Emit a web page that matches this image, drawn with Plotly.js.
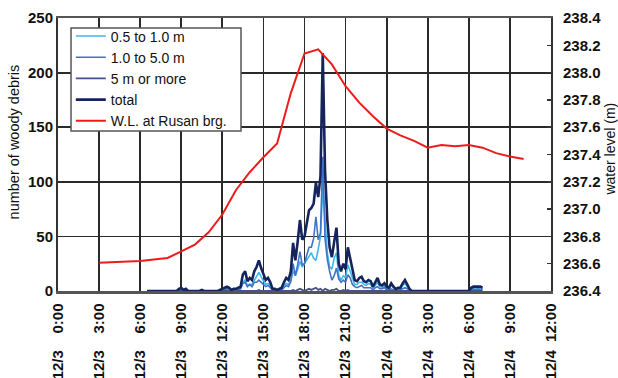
<!DOCTYPE html>
<html>
<head>
<meta charset="utf-8">
<script src="https://cdn.plot.ly/plotly-3.0.1.min.js"></script>
<style>html,body{margin:0;padding:0;background:#fff;}#chart{width:618px;height:378px;}</style>
</head>
<body>
<div id="chart"></div>
<script>
// time in minutes from 12/3 0:00
const tMin = [390,520,530,540,550,560,570,620,630,640,700,710,
  720,730,740,750,760,770,780,790,800,810,820,830,840,850,860,870,880,890,900,910,920,930,940,950,960,970,980,990,
  1000,1010,1020,1030,1040,1050,1060,1070,1080,1090,1100,1110,1120,1130,1140,1150,1160,1170,1180,1190,1200,1210,
  1220,1230,1240,1250,1260,1270,1280,1290,1300,1310,1320,1330,1340,1350,1360,1370,1380,1390,1400,1410,1420,1430,
  1440,1450,1460,1470,1480,1490,1500,1510,1520,1530,1540,1550,1560,
  1800,1810,1820,1830,1840,1850,1860];

const light = [0,0,1,1,0,1,0,0,0,0,0,0,
  1,2,2,1,0,1,1,2,2,8, 10,5,6,6,10,14,17,13,10,6, 7,5,1,1,0,1,2,5,7,6,
  9,18,14,20,27,22,25,28,32,35, 30,28,38,50,95,60,35,22,20,30, 35,14,10,14,12,24,18,11,6,6,
  8,8,6,5,7,6,3,5,8,4, 3,4,3,2,5,3,1,2,2,5, 7,4,1,0,0,
  0,2,2,3,2,3,2];

const medium = [0,0,1,2,1,1,0,0,1,0,0,1,
  1,1,2,2,1,1,1,1,2,7, 8,4,6,4,8,8,10,8,6,4, 5,3,1,1,1,1,1,3,5,4,
  9,25,14,24,36,24,25,33,40,40, 48,68,47,53,123,48,29,18,10,14, 21,11,8,10,8,15,12,6,4,3,
  4,5,3,3,3,3,1,3,4,2, 2,3,1,1,2,1,1,1,1,2, 3,2,1,0,0,
  0,1,2,1,2,1,1];

const fiveMore = [0,0,0,0,0,0,0,0,0,0,0,0,
  0,0,0,0,0,0,0,0,0,0, 0,0,0,0,0,0,1,0,0,0, 0,0,0,0,0,0,0,0,0,0,
  0,1,0,1,2,1,0,1,2,1, 2,3,1,2,0,2,1,0,1,1, 2,0,0,1,0,1,0,0,0,0,
  0,0,0,0,0,0,0,0,0,0, 0,0,0,0,0,0,0,0,0,0, 0,0,0,0,0,
  0,0,0,0,0,0,0];

const total = [0,0,2,3,1,2,0,0,1,0,0,1,
  2,3,4,3,1,2,2,3,4,15, 18,9,12,10,18,22,28,21,16,10, 12,8,2,2,1,2,3,8,12,10,
  18,44,28,45,65,47,50,62,74,76, 80,99,86,105,218,110,65,40,31,45, 58,25,18,25,20,40,30,17,10,9,
  12,13,9,8,10,9,4,8,12,6, 5,7,4,3,7,4,2,3,3,7, 10,6,2,0,0,
  0,3,4,4,4,4,3];

// water level at Rusan bridge (hourly, minutes from 12/3 0:00)
const wlTime = [180,240,300,360,420,480,540,600,660,720,780,840,900,960,1020,1080,1140,1200,1260,1320,1380,1440,1500,1560,1620,1680,1740,1800,1860,1920,1980,2040];
const wlLevel = [236.607,236.61,236.615,236.62,236.63,236.642,236.69,236.74,236.83,236.96,237.14,237.27,237.38,237.48,237.85,238.14,238.17,238.06,237.90,237.78,237.68,237.59,237.54,237.50,237.45,237.47,237.46,237.47,237.45,237.41,237.385,237.367];

const tickVals = [0,180,360,540,720,900,1080,1260,1440,1620,1800,1980,2160];
const tickText = ["12/3\u00a0\u00a0\u00a0\u00a00:00","12/3\u00a0\u00a0\u00a0\u00a03:00","12/3\u00a0\u00a0\u00a0\u00a06:00","12/3\u00a0\u00a0\u00a0\u00a09:00",
  "12/3\u00a0\u00a012:00","12/3\u00a0\u00a015:00","12/3\u00a0\u00a018:00","12/3\u00a0\u00a021:00",
  "12/4\u00a0\u00a0\u00a0\u00a00:00","12/4\u00a0\u00a0\u00a0\u00a03:00","12/4\u00a0\u00a0\u00a0\u00a06:00","12/4\u00a0\u00a0\u00a0\u00a09:00","12/4\u00a0\u00a012:00"];

const FONT = "Liberation Sans, Arial, sans-serif";

const traces = [
  {x: tMin, y: light, name: "0.5 to 1.0 m", type: "scatter", mode: "lines", line: {color: "#3fb6ee", width: 1.6}},
  {x: tMin, y: medium, name: "1.0 to 5.0 m", type: "scatter", mode: "lines", line: {color: "#3f73c8", width: 1.6}},
  {x: tMin, y: fiveMore, name: "5 m or more", type: "scatter", mode: "lines", line: {color: "#46528a", width: 1.8}},
  {x: tMin, y: total, name: "total", type: "scatter", mode: "lines", line: {color: "#15255c", width: 2.6}},
  {x: wlTime, y: wlLevel, name: "W.L. at Rusan brg.", type: "scatter", mode: "lines", yaxis: "y2", line: {color: "#ec1c1c", width: 2}}
];

const layout = {
  width: 618, height: 378,
  margin: {l: 58, r: 67, t: 18, b: 87, pad: 0},
  paper_bgcolor: "#fff", plot_bgcolor: "#fff",
  font: {family: FONT, color: "#111", size: 15},
  showlegend: true,
  legend: {x: 0.026, y: 0.991, xanchor: "left", yanchor: "top", bgcolor: "rgba(0,0,0,0)",
    borderwidth: 0, font: {family: FONT, size: 14, color: "#111"},
    tracegroupgap: 0, itemwidth: 30},
  shapes: [{type: "rect", xref: "paper", yref: "paper", x0: 0.0264, x1: 0.3712, y0: 0.586, y1: 0.963,
    layer: "above", fillcolor: "#fff", line: {color: "#555", width: 1.5}}],
  xaxis: {range: [0, 2160], tickmode: "array", tickvals: tickVals, ticktext: tickText,
    tickangle: -90, tickfont: {family: FONT, size: 15, weight: "bold", color: "#111"},
    showgrid: true, gridcolor: "#2a2a2a", gridwidth: 1.8, zeroline: false,
    showline: true, linecolor: "#555", linewidth: 2.5, mirror: true, ticks: "", ticklabelstandoff: 4},
  yaxis: {range: [0, 250], tickvals: [0,50,100,150,200,250], showgrid: true, gridcolor: "#2a2a2a", gridwidth: 1.8,
    zeroline: false, showline: true, linecolor: "#333", linewidth: 2, mirror: true, ticks: "",
    tickfont: {family: FONT, size: 15, weight: "bold", color: "#111"}},
  yaxis2: {range: [236.4, 238.4], dtick: 0.2, tick0: 236.4, tickformat: ".1f", overlaying: "y", side: "right",
    showgrid: false, zeroline: false, showline: true, linecolor: "#333", linewidth: 2,
    ticks: "inside", ticklen: 4, tickwidth: 1.5, tickcolor: "#333", ticklabelstandoff: 7,
    tickfont: {family: FONT, size: 15, weight: "bold", color: "#111"}},
  annotations: [
    {text: "number of woody debris", xref: "paper", yref: "paper", x: -0.0903, y: 0.546,
      xanchor: "center", yanchor: "middle", textangle: -90, showarrow: false,
      font: {family: FONT, size: 14.5, color: "#111"}},
    {text: "water level (m)", xref: "paper", yref: "paper", x: 1.1207, y: 0.52,
      xanchor: "center", yanchor: "middle", textangle: -90, showarrow: false,
      font: {family: FONT, size: 14, color: "#111"}}]
};

Plotly.newPlot("chart", traces, layout, {displayModeBar: false, staticPlot: true});
</script>
</body>
</html>
